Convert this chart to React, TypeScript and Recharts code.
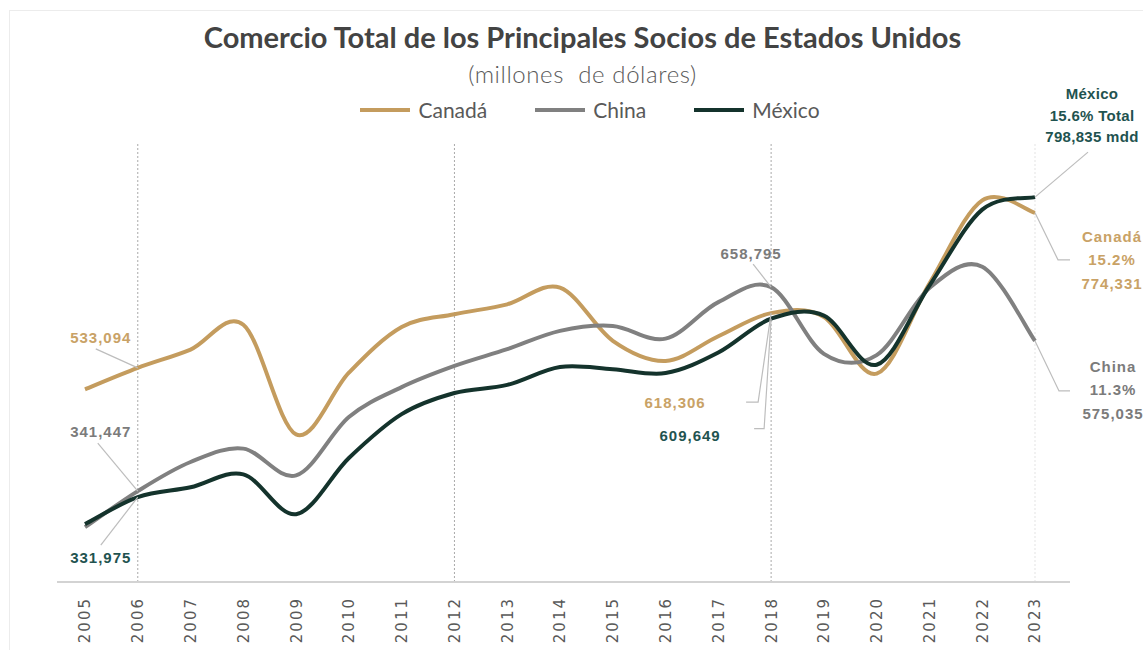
import { Legend, Line, LineChart, ReferenceLine, XAxis, YAxis } from 'recharts';

const years = [
  '2005', '2006', '2007', '2008', '2009', '2010', '2011', '2012', '2013', '2014',
  '2015', '2016', '2017', '2018', '2019', '2020', '2021', '2022', '2023',
];

// millones de dólares
const canada = [
  499800, 533094, 561600, 600200, 429600, 525700, 596700, 616600, 632000, 658000,
  575300, 544000, 582400, 618306, 612400, 524100, 664400, 793800, 774331,
];
const china = [
  285300, 341447, 386700, 407500, 365900, 456800, 503200, 536200, 562200, 590700,
  598400, 578600, 635400, 658795, 555000, 553000, 657400, 690600, 575035,
];
const mexico = [
  290000, 331975, 347300, 367500, 305500, 393000, 461200, 494000, 506600, 534500,
  531100, 525100, 557000, 609649, 614500, 538000, 661200, 779300, 798835,
];

const seriesNames = ['Canadá', 'China', 'México'];
const shares = ['15.2%', '11.3%', '15.6% Total'];
const markedYears = ['2006', '2012', '2018'];

const COLORS = {
  canada: '#c49c5e',
  china: '#808080',
  mexico: '#14332c',
};
const LABEL_COLORS = {
  canada: '#c9a266',
  china: '#7b7b7b',
  mexico: '#1f5350',
};

const data = years.map((year, i) => ({
  year,
  canada: canada[i],
  china: china[i],
  mexico: mexico[i],
}));

const fmt = (v: number) => v.toLocaleString('en-US');

// Excel-like smoothed line (Catmull-Rom through every point)
function smoothCurve(context: any) {
  let pts: [number, number][] = [];
  return {
    areaStart() {},
    areaEnd() {},
    lineStart() {
      pts = [];
    },
    lineEnd() {
      if (!pts.length) return;
      context.moveTo(pts[0][0], pts[0][1]);
      for (let i = 0; i < pts.length - 1; i++) {
        const p0 = pts[Math.max(0, i - 1)];
        const p1 = pts[i];
        const p2 = pts[i + 1];
        const p3 = pts[Math.min(pts.length - 1, i + 2)];
        context.bezierCurveTo(
          p1[0] + (p2[0] - p0[0]) / 6,
          p1[1] + (p2[1] - p0[1]) / 6,
          p2[0] - (p3[0] - p1[0]) / 6,
          p2[1] - (p3[1] - p1[1]) / 6,
          p2[0],
          p2[1],
        );
      }
    },
    point(x: number, y: number) {
      pts.push([x, y]);
    },
  };
}

type Note = {
  index: number;
  lines: (value: number) => string[];
  dx: number;
  dy: number;
  lineHeight?: number;
  leader: [number, number][];
  letterSpacing?: number;
};

const notes: Record<string, Note[]> = {
  canada: [
    { index: 1, lines: (v) => [fmt(v)], dx: -37, dy: -31, leader: [[0, 0], [-42, -19]], letterSpacing: 1 },
    { index: 13, lines: (v) => [fmt(v)], dx: -96, dy: 89, leader: [[0, 0], [-13, 89], [-25, 89]], letterSpacing: 1 },
    {
      index: 18,
      lines: (v) => [seriesNames[0], shares[0], fmt(v)],
      dx: 77,
      dy: 23,
      lineHeight: 23.5,
      leader: [[0, 0], [23, 47], [35, 47]],
      letterSpacing: 1,
    },
  ],
  china: [
    { index: 1, lines: (v) => [fmt(v)], dx: -37, dy: -60, leader: [[0, 0], [-40, -48]], letterSpacing: 1 },
    { index: 13, lines: (v) => [fmt(v)], dx: -20, dy: -34, leader: [[0, 0], [-18, -23]], letterSpacing: 1 },
    {
      index: 18,
      lines: (v) => [seriesNames[1], shares[1], fmt(v)],
      dx: 78,
      dy: 25,
      lineHeight: 23.5,
      leader: [[0, 0], [24, 50], [35, 50]],
      letterSpacing: 1,
    },
  ],
  mexico: [
    { index: 1, lines: (v) => [fmt(v)], dx: -37, dy: 60, leader: [[0, 0], [-37, 48]], letterSpacing: 1 },
    { index: 13, lines: (v) => [fmt(v)], dx: -81, dy: 116, leader: [[0, 0], [-7, 110], [-17, 110]], letterSpacing: 1 },
    {
      index: 18,
      lines: (v) => [seriesNames[2], shares[2], fmt(v) + ' mdd'],
      dx: 57,
      dy: -104,
      lineHeight: 21.5,
      leader: [[0, 0], [53, -45]],
      letterSpacing: 0.3,
    },
  ],
};

function makeLabel(key: 'canada' | 'china' | 'mexico') {
  return (props: any) => {
    const { x, y, index, value } = props;
    const note = notes[key].find((n) => n.index === index);
    if (!note || x == null || y == null) return null;
    const lines = note.lines(Number(value));
    const lh = note.lineHeight ?? 20;
    return (
      <g key={`${key}-${index}`}>
        <polyline
          points={note.leader.map(([a, b]) => `${x + a},${y + b}`).join(' ')}
          fill='none'
          stroke='#bdbdbd'
          strokeWidth={1.2}
        />
        <text
          x={x + note.dx}
          y={y + note.dy}
          textAnchor='middle'
          dominantBaseline='central'
          fill={LABEL_COLORS[key]}
          fontFamily='"Liberation Sans", Arial, sans-serif'
          fontWeight={700}
          fontSize={15}
          letterSpacing={note.letterSpacing}
        >
          {lines.map((line, i) => (
            <tspan key={i} x={x + note.dx} dy={i === 0 ? 0 : lh}>
              {line}
            </tspan>
          ))}
        </text>
      </g>
    );
  };
}

function YearTick(props: any) {
  const { x, y, payload } = props;
  const ty = y + 15;
  return (
    <text
      x={x}
      y={ty}
      transform={`rotate(-90 ${x} ${ty})`}
      textAnchor='end'
      dy='0.36em'
      fill='#595959'
      fontFamily='"DejaVu Sans", sans-serif'
      fontSize={15}
      letterSpacing={2}
    >
      {payload.value}
    </text>
  );
}

const legendItems = [
  { name: seriesNames[0], color: COLORS.canada },
  { name: seriesNames[1], color: COLORS.china },
  { name: seriesNames[2], color: COLORS.mexico },
];

function LegendContent() {
  return (
    <div
      style={{
        display: 'flex',
        justifyContent: 'center',
        gap: 48,
        fontFamily: 'Lato, sans-serif',
        fontSize: 21,
        color: '#595959',
        marginLeft: 37,
      }}
    >
      {legendItems.map((item) => (
        <div key={item.name} style={{ display: 'flex', alignItems: 'center', gap: 8 }}>
          <span style={{ display: 'inline-block', width: 50, height: 4, background: item.color }} />
          <span>{item.name}</span>
        </div>
      ))}
    </div>
  );
}

export default function App() {
  return (
    <div
      style={{
        position: 'absolute',
        left: 0,
        top: 0,
        width: 1143,
        height: 650,
        background: '#ffffff',
        overflow: 'hidden',
      }}
    >
      <div
        style={{
          position: 'absolute',
          left: 9,
          top: 10,
          width: 1200,
          height: 700,
          border: '1px solid #ececec',
        }}
      />
      <div
        style={{
          position: 'absolute',
          top: 19,
          left: 11,
          width: 1143,
          textAlign: 'center',
          fontFamily: 'Lato, sans-serif',
          fontWeight: 700,
          fontSize: 29,
          color: '#434343',
        }}
      >
        Comercio Total de los Principales Socios de Estados Unidos
      </div>
      <div
        style={{
          position: 'absolute',
          top: 59,
          left: 11,
          width: 1143,
          textAlign: 'center',
          fontFamily: 'Lato, sans-serif',
          fontWeight: 300,
          fontSize: 24,
          letterSpacing: 0.6,
          color: '#595959',
        }}
      >
        (millones&nbsp; de dólares)
      </div>
      <LineChart
        width={1143}
        height={650}
        data={data}
        margin={{ top: 143, right: 73, bottom: 8, left: 57 }}
        style={{ position: 'absolute', left: 0, top: 0 }}
      >
        <XAxis
          dataKey='year'
          height={60}
          padding={{ left: 28, right: 35 }}
          interval={0}
          tickLine={false}
          tickSize={0}
          tickMargin={0}
          axisLine={{ stroke: '#d3d3d3', strokeWidth: 2 }}
          tick={<YearTick />}
        />
        <YAxis hide domain={[200000, 883000]} />
        {markedYears.map((yr) => (
          <ReferenceLine key={yr} x={yr} stroke='#a9a9a9' strokeDasharray='2 2' />
        ))}
        <ReferenceLine x='2023' stroke='#e3e3e3' strokeDasharray='2 2' />
        <Legend
          layout='horizontal'
          verticalAlign='middle'
          align='center'
          content={<LegendContent />}
          wrapperStyle={{ top: 97, left: 0, width: 1143 }}
        />
        <Line
          dataKey='canada'
          name={seriesNames[0]}
          type={smoothCurve as any}
          stroke={COLORS.canada}
          strokeWidth={4}
          dot={false}
          activeDot={false}
          isAnimationActive={false}
          label={makeLabel('canada')}
        />
        <Line
          dataKey='china'
          name={seriesNames[1]}
          type={smoothCurve as any}
          stroke={COLORS.china}
          strokeWidth={4}
          dot={false}
          activeDot={false}
          isAnimationActive={false}
          label={makeLabel('china')}
        />
        <Line
          dataKey='mexico'
          name={seriesNames[2]}
          type={smoothCurve as any}
          stroke={COLORS.mexico}
          strokeWidth={4}
          dot={false}
          activeDot={false}
          isAnimationActive={false}
          label={makeLabel('mexico')}
        />
      </LineChart>
    </div>
  );
}
